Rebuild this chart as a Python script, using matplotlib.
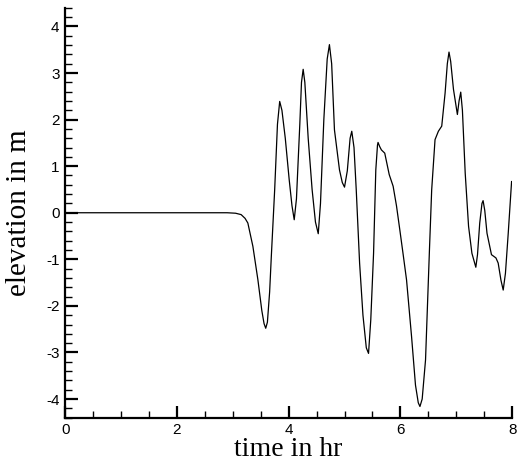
import numpy as np
import matplotlib
matplotlib.use("Agg")
import matplotlib.pyplot as plt
from matplotlib.ticker import MultipleLocator

# time (hr) and surface elevation (m)
time_hr = [0.0, 1.0, 2.0, 2.9, 3.05, 3.15, 3.22, 3.27, 3.36, 3.45, 3.52, 3.56, 3.59, 3.62,
           3.66, 3.69, 3.75, 3.80, 3.84, 3.88, 3.94, 4.01, 4.06, 4.10, 4.14, 4.20, 4.23,
           4.26, 4.29, 4.35, 4.42, 4.48, 4.53, 4.57, 4.63, 4.69, 4.73, 4.77, 4.82, 4.91,
           4.96, 5.00, 5.05, 5.10, 5.13, 5.17, 5.21, 5.27, 5.33, 5.39, 5.43, 5.47, 5.52,
           5.56, 5.59, 5.60, 5.63, 5.66, 5.72, 5.76, 5.80, 5.87, 5.93, 5.99, 6.05, 6.11,
           6.20, 6.27, 6.32, 6.35, 6.39, 6.45, 6.52, 6.56, 6.62, 6.68, 6.74, 6.80, 6.84,
           6.87, 6.90, 6.95, 7.02, 7.05, 7.08, 7.11, 7.16, 7.22, 7.28, 7.35, 7.38, 7.42,
           7.46, 7.48, 7.51, 7.55, 7.63, 7.71, 7.75, 7.80, 7.84, 7.88, 7.93, 7.99]
elevation_m = [0.0, 0.0, 0.0, 0.0, -0.01, -0.04, -0.12, -0.22, -0.72, -1.44, -2.10, -2.38,
               -2.48, -2.35, -1.70, -0.94, 0.49, 1.90, 2.39, 2.20, 1.60, 0.71, 0.15, -0.15,
               0.30, 1.90, 2.80, 3.08, 2.80, 1.60, 0.50, -0.20, -0.45, 0.20, 2.00, 3.30,
               3.61, 3.20, 1.78, 0.92, 0.65, 0.55, 0.90, 1.60, 1.75, 1.40, 0.49, -1.08,
               -2.20, -2.90, -3.02, -2.30, -0.87, 0.92, 1.45, 1.51, 1.42, 1.35, 1.28, 1.05,
               0.82, 0.57, 0.15, -0.37, -0.90, -1.44, -2.66, -3.70, -4.08, -4.16, -4.00,
               -3.16, -0.80, 0.49, 1.57, 1.75, 1.86, 2.57, 3.20, 3.45, 3.25, 2.65, 2.11,
               2.40, 2.59, 2.20, 0.85, -0.29, -0.87, -1.17, -0.90, -0.22, 0.20, 0.26, 0.05,
               -0.44, -0.90, -0.97, -1.08, -1.45, -1.66, -1.30, -0.44, 0.67]

plt.rcParams['axes.unicode_minus'] = False

fig = plt.figure(figsize=(5.21, 4.61), dpi=100)
ax = fig.add_axes([0.125, 0.094, 0.858, 0.889])

ax.plot(time_hr, elevation_m, color='black', linewidth=0.9)

ax.set_xlim(0, 8)
ax.set_ylim(-4.4, 4.4)
ax.xaxis.set_major_locator(MultipleLocator(2))
ax.xaxis.set_minor_locator(MultipleLocator(0.5))
ax.yaxis.set_major_locator(MultipleLocator(1))
ax.yaxis.set_minor_locator(MultipleLocator(0.2))

for side in ['top', 'right']:
    ax.spines[side].set_visible(False)
for side in ['left', 'bottom']:
    ax.spines[side].set_linewidth(1.6)

ax.tick_params(which='both', direction='in', top=False, right=False)
ax.tick_params(which='major', length=9, width=1.6, pad=4, labelsize=11)
ax.tick_params(which='minor', length=5, width=1.0)
for lab in ax.get_xticklabels() + ax.get_yticklabels():
    lab.set_fontfamily('Liberation Sans')

ax.set_xlabel('time in hr', fontfamily='Liberation Serif', fontsize=20)
ax.set_ylabel('elevation in m', fontfamily='Liberation Serif', fontsize=21)
ax.xaxis.set_label_coords(0.5, -0.046)
ax.yaxis.set_label_coords(-0.075, 0.5)

fig.savefig('out.png', dpi=100)
